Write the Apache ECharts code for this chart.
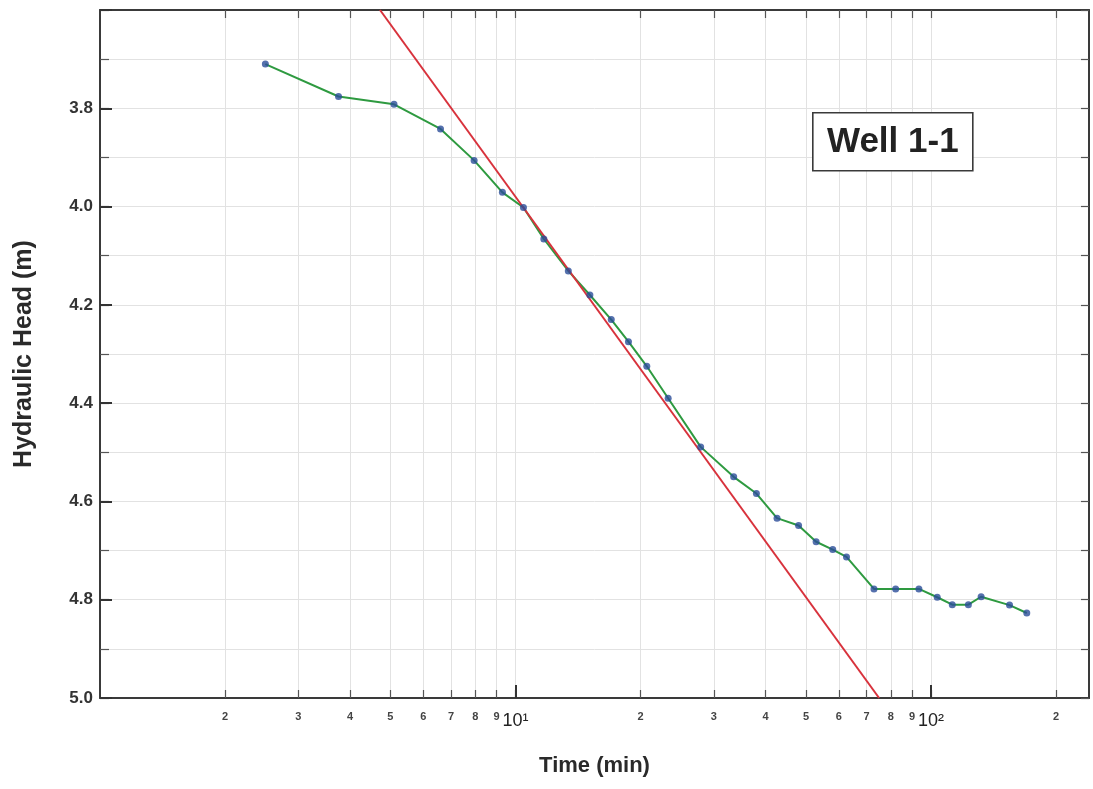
<!DOCTYPE html>
<html>
<head>
<meta charset="utf-8">
<script src="https://cdn.jsdelivr.net/npm/echarts@6/dist/echarts.min.js"></script>
<style>
html,body{margin:0;padding:0;background:#fff;}
#chart{width:1093px;height:789px;}
</style>
</head>
<body>
<div id="chart"></div>
<script>
// ---- data ----
const times = [2.5, 3.75, 5.1, 6.6, 7.95, 9.3, 10.45, 11.7, 13.4, 15.1, 17.0, 18.7, 20.7, 23.3, 27.9, 33.5, 38, 42.6, 48, 52.9, 58, 62.6, 72.9, 82.2, 93.5, 103.5, 112.5, 123, 132, 154.5, 170];
const heads = [3.71, 3.776, 3.792, 3.842, 3.906, 3.971, 4.002, 4.066, 4.131, 4.18, 4.23, 4.275, 4.325, 4.39, 4.489, 4.55, 4.584, 4.634, 4.649, 4.682, 4.698, 4.713, 4.778, 4.778, 4.778, 4.795, 4.81, 4.81, 4.794, 4.811, 4.827];
const fitTimes = [4.72, 75.0];
const fitHeads = [3.6, 5.0];

const minorTickValues = [2, 3, 4, 5, 6, 7, 8, 9, 20, 30, 40, 50, 60, 70, 80, 90, 200];
const minorTickLabels = ['2', '3', '4', '5', '6', '7', '8', '9', '2', '3', '4', '5', '6', '7', '8', '9', '2'];
const majorTickValues = [10, 100];
const majorTickLabels = ['10\u00B9', '10\u00B2'];
const allTickValues = minorTickValues.concat(majorTickValues).sort((a, b) => a - b);
const yLabelValues = [3.8, 4.0, 4.2, 4.4, 4.6, 4.8, 5.0];
const yLabelTexts = ['3.8', '4.0', '4.2', '4.4', '4.6', '4.8', '5.0'];
const wellLabel = 'Well 1-1';

function lookup(vals, texts, v) {
  for (let i = 0; i < vals.length; i++) {
    if (Math.abs(vals[i] - v) < 1e-6 * Math.max(1, vals[i])) return texts[i];
  }
  return '';
}

const FONT = 'Liberation Sans, Arial, sans-serif';
const X_MIN = 1, X_MAX = 240, Y_MIN = 3.6, Y_MAX = 5.0;
const axisColor = '#3a3a3a';
const gridColor = '#e2e2e2';

const chart = echarts.init(document.getElementById('chart'), null, {renderer: 'canvas'});

const option = {
  animation: false,
  backgroundColor: '#ffffff',
  grid: {left: 100, right: 4, top: 10, bottom: 91, containLabel: false},
  xAxis: [
    {
      type: 'log', logBase: 10, min: X_MIN, max: X_MAX, position: 'bottom',
      name: 'Time (min)', nameLocation: 'middle', nameGap: 57,
      nameTextStyle: {fontFamily: FONT, fontSize: 22, fontWeight: 'bold', color: '#2a2a2a'},
      axisLine: {show: true, onZero: false, lineStyle: {color: axisColor, width: 2}},
      axisTick: {show: true, inside: true, length: 8, customValues: allTickValues, lineStyle: {color: '#555', width: 1.2}},
      minorTick: {show: false},
      axisLabel: {
        show: true, customValues: minorTickValues, margin: 13,
        fontFamily: FONT, fontSize: 11, fontWeight: 'bold', color: '#444',
        formatter: v => lookup(minorTickValues, minorTickLabels, v)
      },
      splitLine: {show: true, lineStyle: {color: gridColor, width: 1}}
    },
    {
      type: 'log', logBase: 10, min: X_MIN, max: X_MAX, position: 'bottom',
      axisLine: {show: false, onZero: false},
      axisTick: {show: true, inside: true, length: 13, customValues: majorTickValues, lineStyle: {color: '#333', width: 2}},
      axisLabel: {
        show: true, customValues: majorTickValues, margin: 14,
        fontFamily: FONT, fontSize: 18, color: '#222',
        formatter: v => lookup(majorTickValues, majorTickLabels, v)
      },
      splitLine: {show: false}
    },
    {
      type: 'log', logBase: 10, min: X_MIN, max: X_MAX, position: 'top',
      axisLine: {show: true, onZero: false, lineStyle: {color: axisColor, width: 2}},
      axisTick: {show: true, inside: true, length: 8, customValues: allTickValues, lineStyle: {color: '#555', width: 1.2}},
      axisLabel: {show: false},
      splitLine: {show: false}
    }
  ],
  yAxis: [
    {
      type: 'value', inverse: true, min: Y_MIN, max: Y_MAX, interval: 0.1, position: 'left',
      axisLine: {show: true, onZero: false, lineStyle: {color: axisColor, width: 2}},
      axisTick: {show: true, inside: true, length: 9, lineStyle: {color: '#555', width: 1.2}},
      axisLabel: {show: false},
      splitLine: {show: true, lineStyle: {color: gridColor, width: 1}}
    },
    {
      type: 'value', inverse: true, min: Y_MIN, max: Y_MAX, interval: 0.2, position: 'left',
      name: 'Hydraulic Head (m)', nameLocation: 'middle', nameGap: 63,
      nameTextStyle: {fontFamily: FONT, fontSize: 25, fontWeight: 'bold', color: '#2a2a2a'},
      axisLine: {show: false, onZero: false},
      axisTick: {show: true, inside: true, length: 12, lineStyle: {color: '#333', width: 2}},
      axisLabel: {
        show: true, margin: 7, fontFamily: FONT, fontSize: 17, fontWeight: 'bold', color: '#333',
        formatter: v => lookup(yLabelValues, yLabelTexts, v)
      },
      splitLine: {show: false}
    },
    {
      type: 'value', inverse: true, min: Y_MIN, max: Y_MAX, interval: 0.1, position: 'right',
      axisLine: {show: true, onZero: false, lineStyle: {color: axisColor, width: 2}},
      axisTick: {show: true, inside: true, length: 8, lineStyle: {color: '#555', width: 1.2}},
      axisLabel: {show: false},
      splitLine: {show: false}
    }
  ],
  series: [
    {
      name: 'Observed', type: 'line', xAxisIndex: 0, yAxisIndex: 0,
      data: times.map((t, i) => [t, heads[i]]),
      showSymbol: false, symbol: 'none',
      lineStyle: {color: '#2e9a40', width: 2}, z: 2
    },
    {
      name: 'Fit', type: 'line', xAxisIndex: 0, yAxisIndex: 0,
      data: fitTimes.map((t, i) => [t, fitHeads[i]]),
      symbol: 'none', lineStyle: {color: '#d8323c', width: 2}, z: 3
    },
    {
      name: 'Points', type: 'scatter', xAxisIndex: 0, yAxisIndex: 0,
      data: times.map((t, i) => [t, heads[i]]),
      symbol: 'circle', symbolSize: 7,
      itemStyle: {color: '#2a4c98'}, z: 4
    }
  ],
  graphic: [
    {
      type: 'group', left: 812, top: 112, z: 100,
      children: [
        {type: 'rect', z: 100, shape: {x: 0, y: 0, width: 160, height: 58},
         style: {fill: '#ffffff', stroke: '#3a3a3a', lineWidth: 1.6}},
        {type: 'text', z: 101, x: 80, y: 30,
         style: {text: wellLabel, fill: '#222', font: 'bold 35px ' + FONT, textAlign: 'center', textVerticalAlign: 'middle'}}
      ]
    }
  ]
};
chart.setOption(option);
</script>
</body>
</html>
